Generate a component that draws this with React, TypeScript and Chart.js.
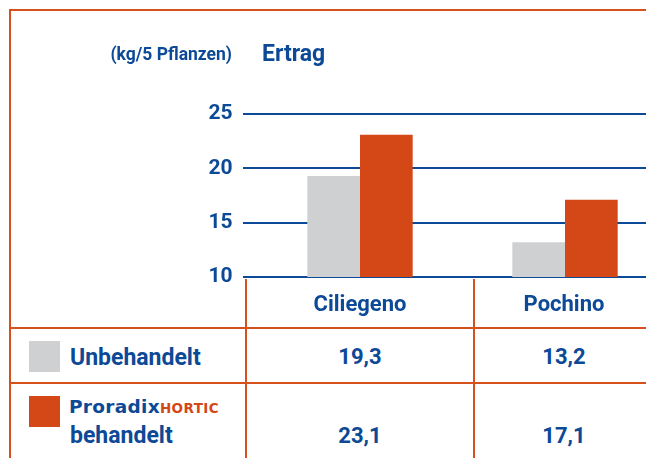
import React, { useEffect, useRef } from "react";
import { Chart, registerables } from "chart.js";

Chart.register(...registerables);

// ---- data ----
const categories = ["Ciliegeno", "Pochino"];
const seriesUnbehandelt = [19.3, 13.2];
const seriesBehandelt = [23.1, 17.1];
const yTickValues = [10, 15, 20, 25];
const rowLabelUnbehandelt = "Unbehandelt";
const rowLabelBrand = "Proradix";
const rowLabelBrandSuffix = "HORTIC";
const rowLabelBehandelt = "behandelt";
const unitLabel = "(kg/5 Pflanzen)";
const titleLabel = "Ertrag";

// ---- styles ----
const BLUE = "#0c4996";
const ORANGE = "#d44716";
const LINE_ORANGE = "#d6501c";
const GRAY = "#cfd0d2";
const FONT = "Roboto, 'Open Sans', 'DejaVu Sans', sans-serif";
const BRAND_FONT = "'DejaVu Sans', Verdana, sans-serif";

const CANVAS_W = 690;
const CANVAS_H = 300;
const AXIS_W = 257.5;
const COL_CENTERS = [360, 564];

function fmt(v: number) {
  return v.toFixed(1).replace(".", ",");
}

type TProps = {
  x: number;
  baseline: number;
  size: number;
  weight?: number | string;
  align?: "left" | "center" | "right";
  color?: string;
  children: React.ReactNode;
  spacing?: number;
  family?: string;
  ascent?: number;
};

function T({ x, baseline, size, weight = 700, align = "left", color = BLUE, children, spacing = 0, family = FONT, ascent = 0.842 }: TProps) {
  const top = baseline - ascent * size;
  const tx = align === "left" ? "0" : align === "center" ? "-50%" : "-100%";
  return (
    <div
      style={{
        position: "absolute",
        left: x,
        top,
        fontFamily: family,
        fontSize: size,
        lineHeight: `${size}px`,
        fontWeight: weight as any,
        color,
        whiteSpace: "nowrap",
        transform: `translateX(${tx})`,
        letterSpacing: spacing,
      }}
    >
      {children}
    </div>
  );
}

function Line({ left, top, width, height }: { left: number; top: number; width: number; height: number }) {
  return <div style={{ position: "absolute", left, top, width, height, background: LINE_ORANGE }} />;
}

export default function App() {
  const ref = useRef<HTMLCanvasElement | null>(null);

  useEffect(() => {
    if (!ref.current) return;
    const chart = new Chart(ref.current, {
      type: "bar",
      data: {
        labels: categories,
        datasets: [
          {
            label: rowLabelUnbehandelt,
            data: seriesUnbehandelt,
            backgroundColor: GRAY,
            borderWidth: 0,
            categoryPercentage: 0.514,
            barPercentage: 1,
          },
          {
            label: rowLabelBehandelt,
            data: seriesBehandelt,
            backgroundColor: ORANGE,
            borderWidth: 0,
            categoryPercentage: 0.514,
            barPercentage: 1,
          },
        ],
      },
      options: {
        responsive: false,
        animation: false,
        devicePixelRatio: 1,
        events: [],
        layout: { padding: { top: 114, bottom: CANVAS_H - 277.5, left: 0, right: CANVAS_W - (AXIS_W + 410) } },
        plugins: { legend: { display: false }, tooltip: { enabled: false }, title: { display: false } },
        scales: {
          x: { display: false },
          y: {
            min: yTickValues[0],
            max: yTickValues[yTickValues.length - 1],
            afterBuildTicks: (scale: any) => {
              scale.ticks = yTickValues.map((v) => ({ value: v }));
            },
            afterFit: (scale: any) => {
              scale.width = AXIS_W;
            },
            border: { display: false },
            grid: { color: BLUE, lineWidth: 2, drawTicks: true, tickLength: 14.5, tickColor: BLUE },
            ticks: {
              padding: 10.5,
              color: BLUE,
              font: { family: FONT, size: 21, weight: "bold" },
              callback: (v: any) => String(v),
            },
          },
        },
      },
    });
    return () => chart.destroy();
  }, []);

  return (
    <div
      style={{
        position: "fixed",
        left: 0,
        top: 0,
        width: 646,
        height: 458,
        overflow: "hidden",
        background: "#fff",
      }}
    >
      <canvas
        ref={ref}
        width={CANVAS_W}
        height={CANVAS_H}
        style={{ position: "absolute", left: 0, top: 0, width: CANVAS_W, height: CANVAS_H }}
      />
      {/* frame and table lines */}
      <Line left={9} top={9} width={700} height={2} />
      <Line left={9} top={9} width={2} height={460} />
      <Line left={9} top={327} width={700} height={2} />
      <Line left={9} top={382} width={700} height={2} />
      <Line left={245} top={279} width={2} height={190} />
      <Line left={473} top={279} width={2} height={190} />

      {/* titles */}
      <T x={232} baseline={61} size={17.5} align="right">{unitLabel}</T>
      <T x={262} baseline={61.5} size={23}>{titleLabel}</T>

      {/* column headers */}
      {categories.map((c, i) => (
        <T key={c} x={COL_CENTERS[i]} baseline={311.5} size={22} align="center">
          {c}
        </T>
      ))}

      {/* row 1 */}
      <div style={{ position: "absolute", left: 29, top: 341, width: 31, height: 31, background: GRAY }} />
      <T x={70} baseline={365} size={23}>{rowLabelUnbehandelt}</T>
      {seriesUnbehandelt.map((v, i) => (
        <T key={"u" + i} x={COL_CENTERS[i]} baseline={365} size={22} align="center">
          {fmt(v)}
        </T>
      ))}

      {/* row 2 */}
      <div style={{ position: "absolute", left: 29, top: 396, width: 31, height: 31, background: ORANGE }} />
      <T x={69} baseline={414.3} size={18.5} weight={700} family={BRAND_FONT} spacing={0.3} ascent={0.88}>
        {rowLabelBrand}
        <span style={{ fontSize: 13.5, lineHeight: "12px", color: ORANGE, letterSpacing: 0.4 }}>{rowLabelBrandSuffix}</span>
      </T>
      <T x={70} baseline={443.3} size={23}>{rowLabelBehandelt}</T>
      {seriesBehandelt.map((v, i) => (
        <T key={"b" + i} x={COL_CENTERS[i]} baseline={443.3} size={22} align="center">
          {fmt(v)}
        </T>
      ))}
    </div>
  );
}
